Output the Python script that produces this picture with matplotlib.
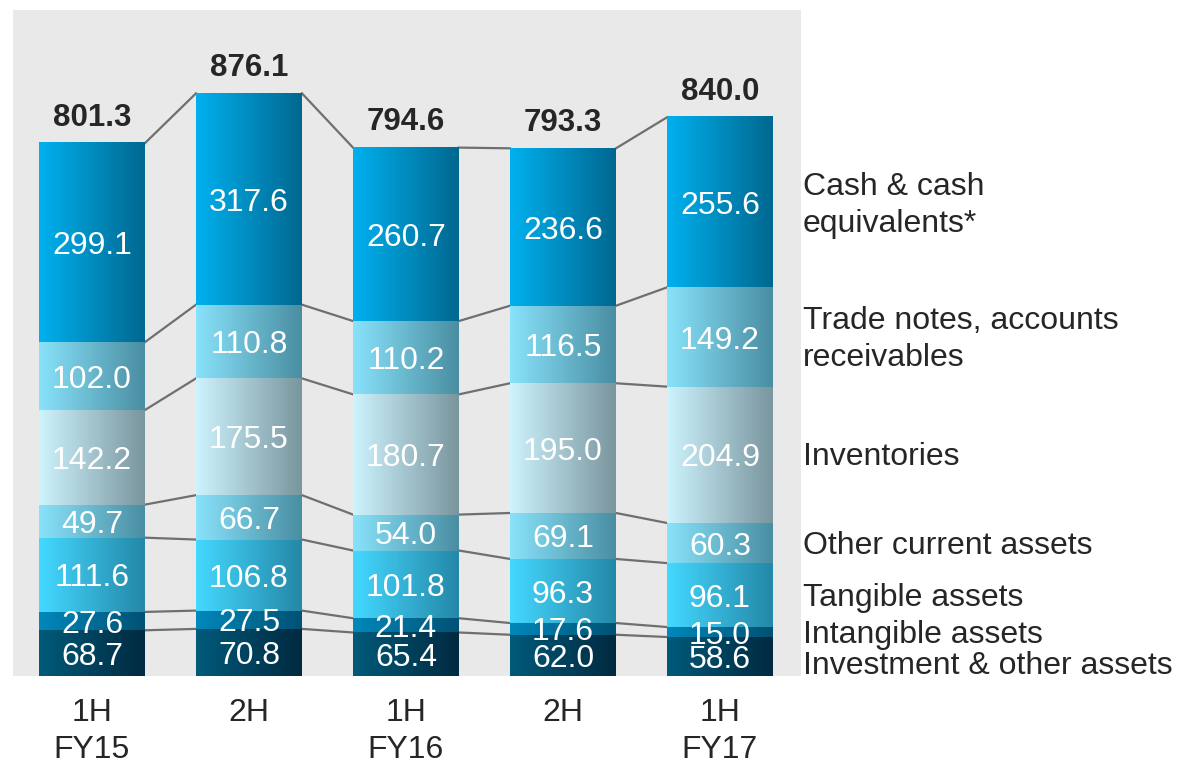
import numpy as np
import matplotlib.pyplot as plt
from matplotlib.colors import to_rgb

plt.rcParams['font.family'] = ['Liberation Sans', 'DejaVu Sans']

periods = ["1H\nFY15", "2H", "1H\nFY16", "2H", "1H\nFY17"]
categories = ["Investment & other assets", "Intangible assets", "Tangible assets",
              "Other current assets", "Inventories",
              "Trade notes, accounts\nreceivables", "Cash & cash\nequivalents*"]

investment = [68.7, 70.8, 65.4, 62.0, 58.6]
intangible = [27.6, 27.5, 21.4, 17.6, 15.0]
tangible = [111.6, 106.8, 101.8, 96.3, 96.1]
other_current = [49.7, 66.7, 54.0, 69.1, 60.3]
inventories = [142.2, 175.5, 180.7, 195.0, 204.9]
trade = [102.0, 110.8, 110.2, 116.5, 149.2]
cash = [299.1, 317.6, 260.7, 236.6, 255.6]
totals = [801.3, 876.1, 794.6, 793.3, 840.0]

series = [investment, intangible, tangible, other_current, inventories, trade, cash]

# gradient (left colour, right colour) per segment
grads = [("#005a7a", "#002a40"),
         ("#0088bb", "#005274"),
         ("#44d8ff", "#2488a8"),
         ("#88e2fa", "#4a8ea2"),
         ("#cdf3fd", "#7a969f"),
         ("#88e2fa", "#4a8ea2"),
         ("#00b0ee", "#006890")]


def gradient(c1, c2, n=64):
    a = np.array(to_rgb(c1))
    b = np.array(to_rgb(c2))
    t = np.linspace(0, 1, n)[:, None]
    return (a + (b - a) * t)[None, :, :]


fig = plt.figure(figsize=(11.77, 7.65), dpi=100)
ax = fig.add_axes([13 / 1177, 89 / 765, 788 / 1177, 666 / 765])
ax.set_facecolor("#e9e9e9")

x = np.arange(len(periods))
w = 0.675
bottom = np.zeros(len(periods))
cums = []
for vals, (c1, c2) in zip(series, grads):
    bars = ax.bar(x, vals, w, bottom=bottom, color="none", edgecolor="none")
    img = gradient(c1, c2)
    for b, v in zip(bars, vals):
        x0, y0 = b.get_x(), b.get_y()
        ax.imshow(img, extent=[x0, x0 + b.get_width(), y0, y0 + b.get_height()],
                  aspect="auto", zorder=2, interpolation="bilinear")
        ax.text(b.get_x() + b.get_width() / 2, y0 + b.get_height() / 2, f"{v:.1f}",
                ha="center", va="center_baseline", color="white", fontsize=23, zorder=4)
    bottom = bottom + np.array(vals)
    cums.append(bottom.copy())

# connector lines between bars
for c in cums:
    for i in range(len(x) - 1):
        ax.plot([x[i] + w / 2, x[i + 1] - w / 2], [c[i], c[i + 1]],
                color="#6f6f6f", lw=1.6, zorder=1)

for i, t in enumerate(totals):
    ax.text(x[i], t + 43, f"{t:.1f}", ha="center", va="center_baseline",
            fontsize=22.5, fontweight="bold", color="#262626")

# category labels at right, aligned to last bar's segments
prev = 0
nudge = [-14, -4, -4, -5, -4, -4, -5]
for lab, c, n in zip(categories, cums, nudge):
    mid = (prev + c[-1]) / 2 + n
    ax.text(4.529, mid, lab, ha="left", va="center", fontsize=23,
            color="#262626", clip_on=False, linespacing=1.3)
    prev = c[-1]

ax.set_xlim(-0.503, 4.516)
ax.set_ylim(0, 1001)
ax.set_xticks(x)
ax.set_xticklabels(periods, fontsize=23, color="#262626", linespacing=1.3)
ax.tick_params(axis="x", length=0, pad=16)
ax.set_yticks([])
for s in ax.spines.values():
    s.set_visible(False)

fig.savefig("out.png", dpi=100)
